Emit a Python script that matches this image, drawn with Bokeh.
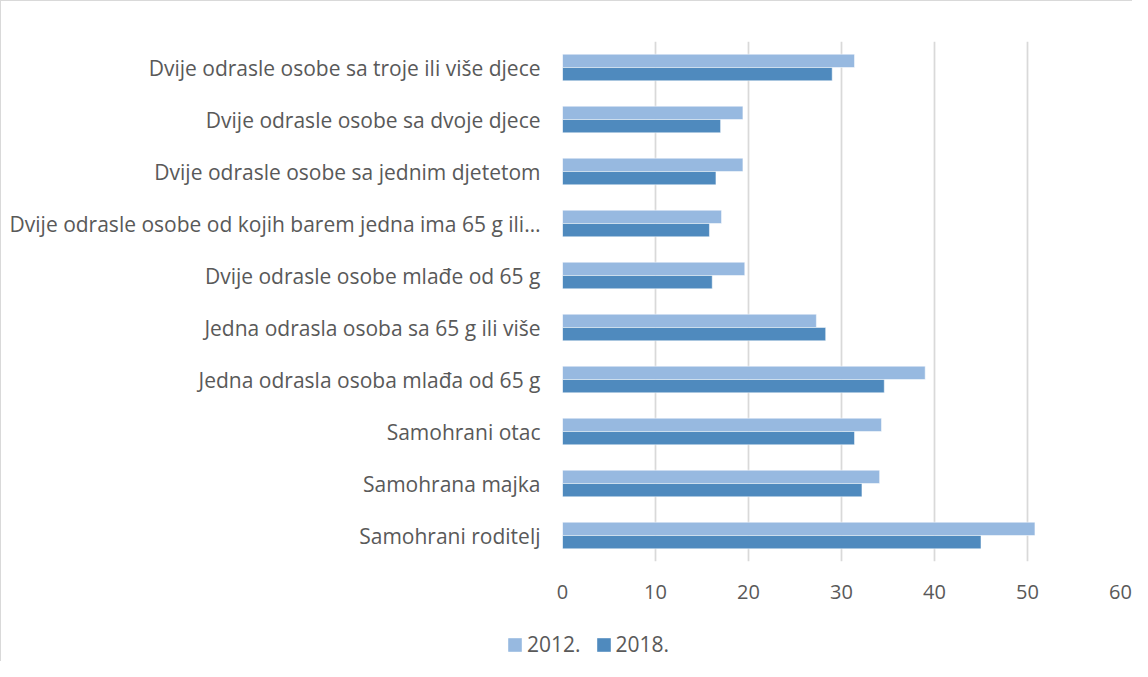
from bokeh.plotting import figure
from bokeh.layouts import column
from bokeh.models import (FactorRange, Range1d, FixedTicker, Legend, LegendItem,
                          ColumnDataSource)
from bokeh.transform import dodge
from bokeh.embed import file_html
from bokeh.resources import INLINE

# Categories listed bottom to top
categories = [
    "Samohrani roditelj",
    "Samohrana majka",
    "Samohrani otac",
    "Jedna odrasla osoba mlađa od 65 g",
    "Jedna odrasla osoba sa 65 g ili više",
    "Dvije odrasle osobe mlađe od 65 g",
    "Dvije odrasle osobe od kojih barem jedna ima 65 g ili…",
    "Dvije odrasle osobe sa jednim djetetom",
    "Dvije odrasle osobe sa dvoje djece",
    "Dvije odrasle osobe sa troje ili više djece",
]
values_2012 = [50.8, 34.1, 34.3, 39.0, 27.3, 19.6, 17.1, 19.4, 19.4, 31.4]
values_2018 = [45.0, 32.2, 31.4, 34.6, 28.3, 16.1, 15.8, 16.5, 17.0, 29.0]
series_names = ["2012.", "2018."]
x_ticks = [0, 10, 20, 30, 40, 50, 60]

TEXT = "#595959"
FONT = "Open Sans"
C2012 = "#97B9E0"
C2018 = "#4F8ABE"
W = 1131

source = ColumnDataSource(dict(cat=categories, v2012=values_2012, v2018=values_2018))

p = figure(
    width=W, height=615,
    y_range=FactorRange(*categories),
    x_range=Range1d(0, 60),
    output_backend="svg", toolbar_location=None,
    min_border_left=561, min_border_right=12, min_border_top=40, min_border_bottom=55,
)
p.frame_align = False
p.outline_line_color = None
p.background_fill_color = "white"
p.border_fill_color = "white"

bh = 0.256
p.hbar(y=dodge("cat", bh / 2, range=p.y_range), right="v2012", left=0, height=bh,
       source=source, fill_color=C2012, line_color="white", line_alpha=0.5, line_width=1)
p.hbar(y=dodge("cat", -bh / 2, range=p.y_range), right="v2018", left=0, height=bh,
       source=source, fill_color=C2018, line_color="white", line_alpha=0.5, line_width=1)

# x axis
p.xaxis.ticker = FixedTicker(ticks=x_ticks)
p.xaxis.axis_line_color = None
p.xaxis.major_tick_line_color = None
p.xaxis.minor_tick_line_color = None
p.xaxis.major_tick_out = 0
p.xaxis.major_label_standoff = 23
p.xaxis.major_label_text_font = FONT
p.xaxis.major_label_text_font_size = "20px"
p.xaxis.major_label_text_color = TEXT

# y axis
p.yaxis.axis_line_color = None
p.yaxis.major_tick_line_color = None
p.yaxis.minor_tick_line_color = None
p.yaxis.major_tick_out = 0
p.yaxis.major_label_standoff = 22
p.yaxis.major_label_text_font = FONT
p.yaxis.major_label_text_font_size = "21px"
p.yaxis.major_label_text_color = TEXT

p.xgrid.grid_line_color = "#d9d9d9"
p.xgrid.grid_line_width = 1.75
p.ygrid.grid_line_color = None

# legend strip below the chart
lg = figure(
    width=W, height=45,
    x_range=Range1d(0, 1), y_range=Range1d(0, 1),
    x_axis_location=None, y_axis_location=None,
    output_backend="svg", toolbar_location=None,
    min_border=0, min_border_left=0, min_border_right=0,
    min_border_top=0, min_border_bottom=0,
)
lg.frame_align = False
lg.outline_line_color = None
lg.xgrid.visible = False
lg.ygrid.visible = False
# swatch renderers: same series, zero width and outside the strip's range, so only the legend shows them
s1 = lg.hbar(y="v2012", right=0, left=0, height=0.5, source=source,
             fill_color=C2012, line_color=None)
s2 = lg.hbar(y="v2018", right=0, left=0, height=0.5, source=source,
             fill_color=C2018, line_color=None)

legend = Legend(
    items=[LegendItem(label=series_names[0], renderers=[s1]),
           LegendItem(label=series_names[1], renderers=[s2])],
    orientation="horizontal",
    location=(505, 3),
    glyph_width=17, glyph_height=17,
    label_standoff=4, spacing=14,
    padding=0, margin=0,
    border_line_color=None, background_fill_alpha=0,
    label_text_font=FONT, label_text_font_size="21px", label_text_color=TEXT,
)
lg.add_layout(legend, "center")

layout = column(p, lg, spacing=0,
                styles={"border-top": "1px solid #d9d9d9", "border-left": "1px solid #d9d9d9"})

open("out.html", "w").write(file_html(layout, INLINE))
